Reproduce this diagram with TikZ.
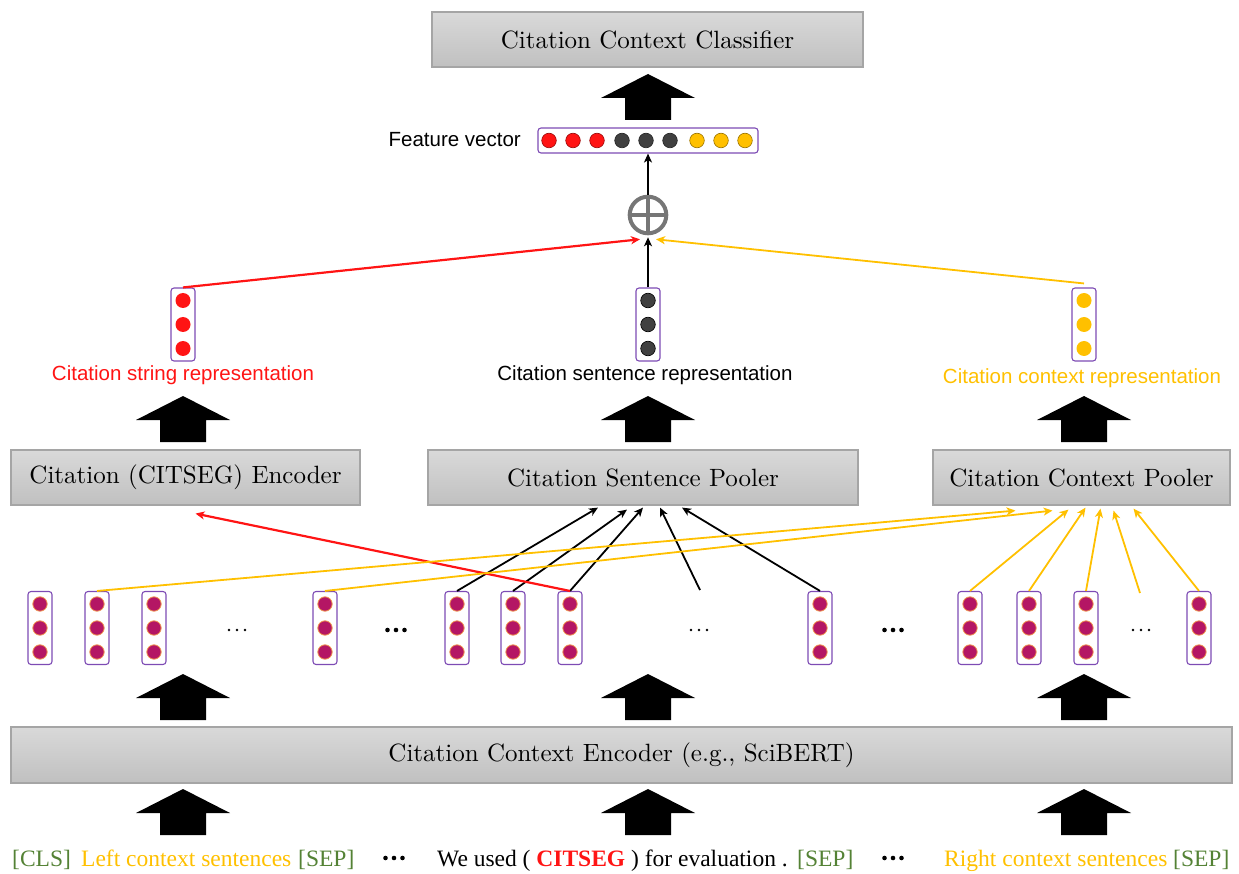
\documentclass[tikz,border=0pt]{standalone}
\usepackage{fontspec}
\usepackage{xcolor}
\usepackage{tikz}
\usetikzlibrary{math,arrows.meta}
\newfontfamily\lblfont{Liberation Sans}
\newfontfamily\tokfont{Liberation Serif}
\newfontfamily\boxfont{lmroman10-regular}[Extension=.otf]

\definecolor{citred}{RGB}{255,20,20}
\definecolor{ctxyellow}{RGB}{255,192,0}
\definecolor{sepgreen}{RGB}{84,130,53}
\definecolor{vecpurple}{RGB}{125,75,180}
\definecolor{tokmagenta}{RGB}{180,22,100}
\definecolor{tokedge}{RGB}{240,150,80}
\definecolor{darkdot}{RGB}{64,64,64}
\definecolor{boxtop}{RGB}{217,217,217}
\definecolor{boxbot}{RGB}{192,192,192}
\definecolor{boxedge}{RGB}{165,165,165}
\definecolor{plusgray}{RGB}{118,118,118}

\begin{document}
\begin{tikzpicture}[x=1pt,y=-1pt,
	box/.style={draw=boxedge,line width=1.2pt,top color=boxtop,bottom color=boxbot,minimum height=55pt,inner sep=0pt,font=\boxfont\fontsize{25}{30}\selectfont},
	vec/.style={draw=vecpurple,line width=1.1pt,rounded corners=3pt,minimum width=24pt,minimum height=73pt,inner sep=0pt},
	lbl/.style={font=\lblfont\fontsize{20.5}{24}\selectfont,inner sep=0pt},
	tok/.style={font=\tokfont\fontsize{23.5}{28}\selectfont,inner sep=0pt,anchor=base west},
	tokdot/.style={fill=tokmagenta,draw=tokedge,line width=0.8pt},
	blk/.style={-{Stealth[length=9pt,width=8pt,inset=2.5pt]},line width=1.8pt},
	redarr/.style={blk,draw=citred,line width=2.2pt},
	ylwarr/.style={blk,draw=ctxyellow},
]
\useasboundingbox (0,0) rectangle (1239,874);
\tikzmath{
	\vy = 628;\ty = 324.5;
}
% boxes
\node[box,minimum width=431pt] (classifier) at (647.5,39.5) {Citation Context Classifier};
\node[box,minimum width=349pt] (citenc) at (185.5,477.5) {Citation (CITSEG) Encoder};
\node[box,minimum width=430pt] (sentpool) at (643,477.5) {Citation Sentence Pooler};
\node[box,minimum width=297pt] (ctxpool) at (1081.5,477.5) {Citation Context Pooler};
\node[box,minimum width=1221pt,minimum height=56pt] (ctxenc) at (621.5,755) {Citation Context Encoder (e.g., SciBERT)};
% block arrows
\foreach \cx/\tp in {648/74,183/396,648/396,1084/396,183/674,648/674,1084/674,183/789,648/789,1084/789}
	\fill (\cx,\tp) -- (\cx+47,\tp+24) -- (\cx+23,\tp+24) -- (\cx+23,\tp+46)
		-- (\cx-23,\tp+46) -- (\cx-23,\tp+24) -- (\cx-47,\tp+24) -- cycle;
% feature vector
\node[vec,minimum width=220pt,minimum height=25pt] (fvec) at (648,140.5) {};
\foreach \x/\c in {549/citred,573/citred,597/citred,622/darkdot,646/darkdot,670/darkdot,697/ctxyellow,721/ctxyellow,745/ctxyellow}
	\filldraw[fill=\c,draw=\c!60!black,line width=0.6pt] (\x,140.5) circle (7.3pt);
\node[lbl,anchor=east] (fveclbl) at (521,140) {Feature vector};
\node[circle,draw=plusgray,line width=4pt,minimum size=36.6pt,inner sep=0pt] (plus) at (648,215) {};
\draw[plusgray,line width=4pt] (plus.north) -- (plus.south) (plus.west) -- (plus.east);
% representations
\node[vec] (strvec) at (183,\ty) {};
\node[vec] (sentvec) at (648,\ty) {};
\node[vec] (ctxvec) at (1084,\ty) {};
\foreach \dy in {-24,0,24} {
	\fill[citred] (183,\ty+\dy) circle (7.5pt);
	\filldraw[fill=darkdot,draw=black,line width=0.6pt] (648,\ty+\dy) circle (7.3pt);
	\fill[ctxyellow] (1084,\ty+\dy) circle (7.5pt);
};
\node[lbl,text=citred] (strlbl) at (183,375) {Citation string representation};
\node[lbl] (sentlbl) at (645,375) {Citation sentence representation};
\node[lbl,text=ctxyellow] (ctxlbl) at (1082,378) {Citation context representation};
\draw[blk] (plus.north) -- (fvec.south);
\draw[blk,shorten >=2pt] (sentvec.north) -- (plus.south);
\draw[redarr] (strvec.north) -- ([shift={(-8,4)}]plus.south);
\draw[ylwarr] ([yshift=4pt]ctxvec.north) -- ([shift={(8,4)}]plus.south);
% token vectors
\foreach \x [count=\i] in {40,97,154,325,457,513,570,820,970,1029,1086,1199} {
	\node[vec] (v\i) at (\x,\vy) {};
	\foreach \dy in {-24,0,24} \filldraw[tokdot] (\x,\vy+\dy) circle (7.2pt);
};
\foreach \x in {237,699,1141}
	\foreach \k in {-8,0,8} \fill (\x+\k,630) circle (1.3pt);
\foreach \x/\y in {396/630,893/630,394/858,893/858}
	\foreach \k in {-8.5,0,8.5} \fill (\x+\k,\y) circle (2.3pt);
\coordinate (g2top) at (700,590);
\coordinate (g3top) at (1140,593);
% pooler inputs
\draw[blk] (v5.north) -- ([shift={(-45,2)}]sentpool.south);
\draw[blk] (v6.north) -- ([shift={(-16,4)}]sentpool.south);
\draw[blk] (v7.north) -- ([shift={(0,2)}]sentpool.south);
\draw[blk] (g2top) -- ([shift={(17,2)}]sentpool.south);
\draw[blk] (v8.north) -- ([shift={(39,2)}]sentpool.south);
\draw[redarr] (v7.north) -- ([shift={(10,8)}]citenc.south);
\draw[ylwarr] (v2.north) -- ([shift={(-66,5)}]ctxpool.south);
\draw[ylwarr] (v4.north) -- ([shift={(-29,5)}]ctxpool.south);
\draw[ylwarr] (v9.north) -- ([shift={(-13,4)}]ctxpool.south);
\draw[ylwarr] (v10.north) -- ([shift={(4,2)}]ctxpool.south);
\draw[ylwarr] (v11.north) -- ([shift={(19,3)}]ctxpool.south);
\draw[ylwarr] (g3top) -- ([shift={(32,5)}]ctxpool.south);
\draw[ylwarr] (v12.north) -- ([shift={(52,3)}]ctxpool.south);
% input tokens
\node[tok,text=sepgreen] (cls) at (12,866) {[CLS]};
\node[tok,text=ctxyellow] (leftctx) at (81,866) {Left context sentences};
\node[tok,text=sepgreen] (sepa) at (298,866) {[SEP]};
\node[tok] (citsent) at (437,866) {We used ( \textcolor{citred}{\bfseries CITSEG} ) for evaluation .};
\node[tok,text=sepgreen] (sepb) at (797,866) {[SEP]};
\node[tok,text=ctxyellow] (rightctx) at (944,866) {Right context sentences};
\node[tok,text=sepgreen] (sepc) at (1173,866) {[SEP]};
\end{tikzpicture}
\end{document}
